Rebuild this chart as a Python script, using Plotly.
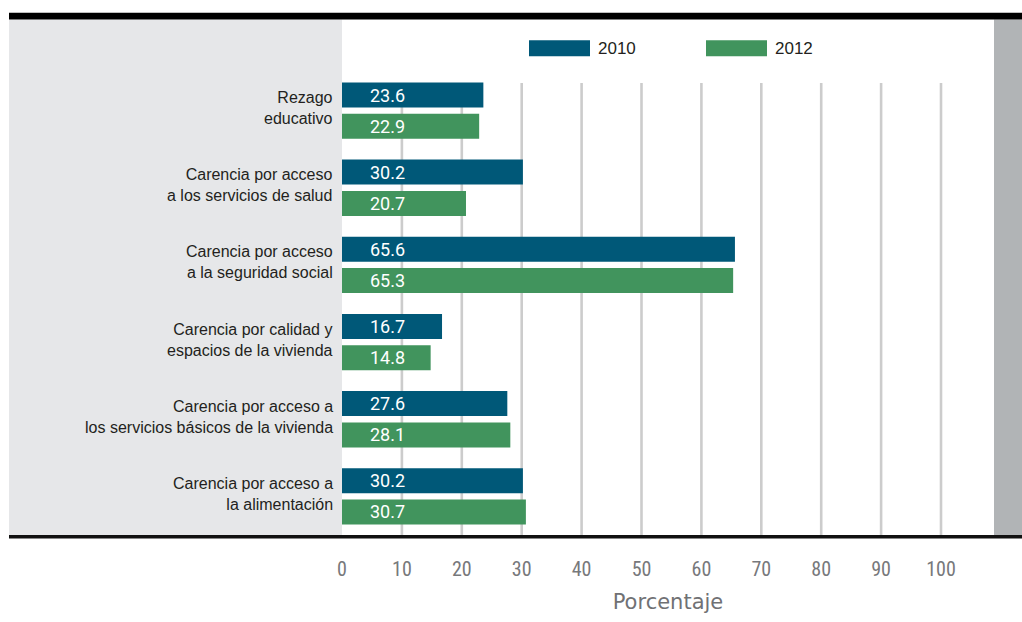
import plotly.graph_objects as go

categories = [
    "Rezago<br>educativo",
    "Carencia por acceso<br>a los servicios de salud",
    "Carencia por acceso<br>a la seguridad social",
    "Carencia por calidad y<br>espacios de la vivienda",
    "Carencia por acceso a<br>los servicios básicos de la vivienda",
    "Carencia por acceso a<br>la alimentación",
]
values_2010 = [23.6, 30.2, 65.6, 16.7, 27.6, 30.2]
values_2012 = [22.9, 20.7, 65.3, 14.8, 28.1, 30.7]
series_names = ["2010", "2012"]
x_ticks = [0, 10, 20, 30, 40, 50, 60, 70, 80, 90, 100]
x_title = "Porcentaje"

BLUE = "#005878"
GREEN = "#41945d"
W, H = 1022, 622
L, R, T, B = 342, 994, 72, 540
PX_PER_UNIT = 5.99


def px(x):
    return (x - L) / (R - L)


def py(y):
    return (B - y) / (B - T)


fig = go.Figure()
for name, vals, col in [(series_names[0], values_2010, BLUE), (series_names[1], values_2012, GREEN)]:
    fig.add_trace(go.Bar(
        y=categories, x=vals, name=name, orientation="h",
        marker=dict(color=col, line=dict(width=0)),
        showlegend=False, hoverinfo="x+y",
    ))

shapes = []
# left grey panel
shapes.append(dict(type="rect", xref="paper", yref="paper", x0=px(9), x1=px(342), y0=py(540), y1=py(19),
                   fillcolor="#e6e7e9", line=dict(width=0), layer="below"))
# right grey bar
shapes.append(dict(type="rect", xref="paper", yref="paper", x0=px(994), x1=px(1022), y0=py(540), y1=py(19),
                   fillcolor="#b1b4b6", line=dict(width=0), layer="below"))
# top black bar
shapes.append(dict(type="rect", xref="paper", yref="paper", x0=px(9), x1=px(1022), y0=py(19), y1=py(12),
                   fillcolor="#000000", line=dict(width=0), layer="above"))
# bottom line
shapes.append(dict(type="rect", xref="paper", yref="paper", x0=px(9), x1=px(1022), y0=py(543.5), y1=py(540),
                   fillcolor="#111111", line=dict(width=0), layer="above"))
# gridlines
for t in x_ticks[1:]:
    shapes.append(dict(type="line", xref="x", yref="paper", x0=t, x1=t, y0=0, y1=py(83),
                       line=dict(color="#cccccc", width=2.6), layer="below"))
# legend swatches
shapes.append(dict(type="rect", xref="paper", yref="paper", x0=px(529), x1=px(590), y0=py(56), y1=py(40),
                   fillcolor=BLUE, line=dict(width=0)))
shapes.append(dict(type="rect", xref="paper", yref="paper", x0=px(706), x1=px(767), y0=py(56), y1=py(40),
                   fillcolor=GREEN, line=dict(width=0)))

annotations = []
label_font = dict(family="Roboto, Liberation Sans, sans-serif", size=18, color="white")
cat_font = dict(family="Liberation Sans, Arial, sans-serif", size=16, color="#231f20")
for cat, v1, v2 in zip(categories, values_2010, values_2012):
    annotations.append(dict(x=px(335), y=cat, xref="paper", yref="y", text=cat, showarrow=False,
                            xanchor="right", yanchor="middle", align="right", yshift=2.5, font=cat_font))
    annotations.append(dict(x=0, y=cat, xref="x", yref="y", text=f"{v1:.1f}", showarrow=False,
                            xanchor="left", yanchor="middle", xshift=26, yshift=15.5, font=label_font))
    annotations.append(dict(x=0, y=cat, xref="x", yref="y", text=f"{v2:.1f}", showarrow=False,
                            xanchor="left", yanchor="middle", xshift=26, yshift=-15.5, font=label_font))
leg_font = dict(family="Liberation Sans, Arial, sans-serif", size=17, color="#231f20")
annotations.append(dict(x=px(596), y=py(48), xref="paper", yref="paper", text=series_names[0], showarrow=False,
                        xanchor="left", yanchor="middle", font=leg_font))
annotations.append(dict(x=px(773), y=py(48), xref="paper", yref="paper", text=series_names[1], showarrow=False,
                        xanchor="left", yanchor="middle", font=leg_font))

fig.update_layout(
    width=W, height=H,
    margin=dict(l=L, r=W - R, t=T, b=H - B, pad=0),
    paper_bgcolor="white", plot_bgcolor="rgba(0,0,0,0)",
    barmode="group", bargap=0.19, bargroupgap=0.2,
    shapes=shapes, annotations=annotations,
    xaxis=dict(
        range=[0, (R - L) / PX_PER_UNIT], tickvals=x_ticks, ticktext=[str(t) for t in x_ticks],
        showgrid=False, zeroline=False, showline=False, ticks="",
        tickfont=dict(family="Liberation Sans Narrow, Roboto Condensed, Roboto, sans-serif", size=20, color="#77787b"),
        ticklabelstandoff=20,
        title=dict(text=x_title, standoff=14,
                   font=dict(family="DejaVu Sans, sans-serif", size=21, color="#707174")),
    ),
    yaxis=dict(
        autorange="reversed", showgrid=False, zeroline=False, showline=False, ticks="",
        showticklabels=False,
    ),
    showlegend=False,
)

fig.write_html("out.html", config={"displayModeBar": False},
               post_script="document.body.style.margin='0';document.body.style.overflow='hidden';")
